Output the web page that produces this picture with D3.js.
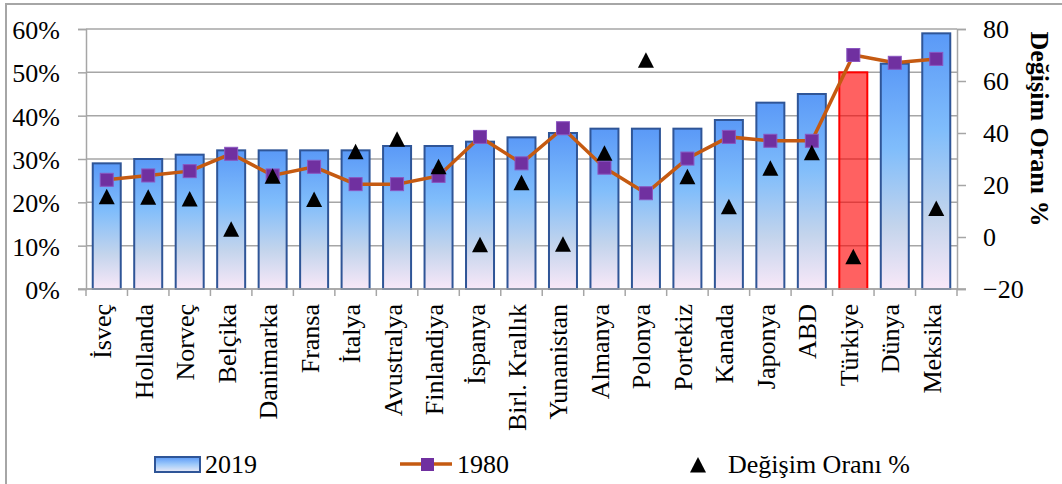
<!DOCTYPE html>
<html><head><meta charset="utf-8">
<script src="https://cdn.jsdelivr.net/npm/d3@7"></script>
<style>body{margin:0;background:#fff}svg{display:block}svg text{font-family:"Liberation Serif","Times New Roman",serif}</style>
</head><body>
<script>
const categories = ["İsveç","Hollanda","Norveç","Belçika","Danimarka","Fransa","İtalya","Avustralya","Finlandiya","İspanya","Birl. Krallık","Yunanistan","Almanya","Polonya","Portekiz","Kanada","Japonya","ABD","Türkiye","Dünya","Meksika"];
const values2019 = [0.29,0.30,0.31,0.32,0.32,0.32,0.32,0.33,0.33,0.34,0.35,0.36,0.37,0.37,0.37,0.39,0.43,0.45,0.50,0.52,0.59];
const values1980 = [0.252,0.262,0.272,0.312,0.262,0.282,0.242,0.242,0.261,0.351,0.29,0.371,0.28,0.221,0.301,0.351,0.342,0.342,0.54,0.522,0.531];
const changeRate = [15.5,15.3,14.6,3.0,23.4,14.4,32.8,37.6,27.0,-3.0,20.9,-2.8,32.2,68.0,23.2,11.6,26.4,32.4,-7.6,null,11.0];
const leftTicks = [0,0.1,0.2,0.3,0.4,0.5,0.6];
const rightTicks = [-20,0,20,40,60,80];
const highlight = "Türkiye";
const rightTitle = "Değişim Oranı %";
const legendLabels = ["2019","1980","Değişim Oranı %"];

const W=1062,H=484, X0=86, X1=957, Y0=29, Y1=289;
const FONT='"Liberation Serif","Times New Roman",serif';
const svg=d3.select("body").append("svg").attr("width",W).attr("height",H).attr("font-family",FONT);
const defs=svg.append("defs");
const g=defs.append("linearGradient").attr("id","bg").attr("x1",0).attr("y1",0).attr("x2",0).attr("y2",1);
[[0,"#5a99f7"],[0.38,"#80bdfb"],[0.72,"#c3d4ec"],[1,"#f8e8f8"]].forEach(([o,c])=>g.append("stop").attr("offset",o).attr("stop-color",c));

// outer frame
svg.append("rect").attr("x",6).attr("y",4).attr("width",W+20).attr("height",H+20).attr("fill","none").attr("stroke","#a6a6a6").attr("stroke-width",2);

const x=d3.scaleBand().domain(categories).range([X0,X1]).padding(0);
const y=d3.scaleLinear().domain([0,0.6]).range([Y1,Y0]);
const y2=d3.scaleLinear().domain([-20,80]).range([Y1,Y0]);
const grid="#a6a6a6";

// gridlines + left axis
const la=svg.append("g").attr("transform",`translate(${X0},0)`)
 .call(d3.axisLeft(y).tickValues(leftTicks).tickFormat(d3.format(".0%")).tickSize(8).tickPadding(18))
 .attr("font-family",FONT).attr("font-size",26);
la.select(".domain").attr("stroke",grid).attr("stroke-width",1.5);
la.selectAll(".tick line").attr("stroke",grid).attr("stroke-width",1.5);
la.selectAll(".tick text").attr("fill","#000").attr("dy","0.36em");
svg.append("g").selectAll("line").data(leftTicks).join("line")
 .attr("x1",X0).attr("x2",X1).attr("y1",d=>y(d)).attr("y2",d=>y(d)).attr("stroke",grid).attr("stroke-width",1.5);

// right axis
const ra=svg.append("g").attr("transform",`translate(${X1},0)`)
 .call(d3.axisRight(y2).tickValues(rightTicks).tickSize(9).tickPadding(17))
 .attr("font-family",FONT).attr("font-size",26);
ra.select(".domain").attr("stroke",grid).attr("stroke-width",1.5);
ra.selectAll(".tick line").attr("stroke",grid).attr("stroke-width",1.5);
ra.selectAll(".tick text").attr("fill","#000").attr("dy","0.34em");

// bars
const bw=x.bandwidth()*0.675;
svg.append("g").selectAll("rect").data(categories).join("rect")
 .attr("x",d=>x(d)+x.bandwidth()/2-bw/2).attr("width",bw)
 .attr("y",(d,i)=>y(values2019[i])).attr("height",(d,i)=>Y1-y(values2019[i]))
 .attr("fill",d=>d===highlight?"rgba(255,0,0,0.62)":"url(#bg)")
 .attr("stroke",d=>d===highlight?"#ff0000":"#2f5597").attr("stroke-width",2);

// bottom axis
const ba=svg.append("g").attr("transform",`translate(0,${Y1})`);
ba.append("line").attr("x1",X0-8).attr("x2",X1+9).attr("stroke",grid).attr("stroke-width",1.5);
ba.selectAll("line.t").data(d3.range(categories.length+1)).join("line").attr("class","t")
 .attr("x1",i=>X0+i*x.step()).attr("x2",i=>X0+i*x.step()).attr("y1",0).attr("y2",7).attr("stroke",grid).attr("stroke-width",1.5);
ba.selectAll("text").data(categories).join("text")
 .attr("transform",d=>`translate(${x(d)+x.bandwidth()/2+4.5},15) rotate(-90)`)
 .attr("text-anchor","end").attr("font-size",26).text(d=>d);

// 1980 line
const pts=categories.map((c,i)=>[x(c)+x.bandwidth()/2,y(values1980[i])]);
svg.append("path").attr("d",d3.line()(pts)).attr("fill","none").attr("stroke","#c55a11").attr("stroke-width",3.5);
svg.append("g").selectAll("rect").data(pts).join("rect")
 .attr("x",d=>d[0]-6.5).attr("y",d=>d[1]-6.5).attr("width",13).attr("height",13)
 .attr("fill","#7030a0").attr("stroke","#8a55c0").attr("stroke-width",1);

// triangles
const tri="M0,-8L8,7.5L-8,7.5Z";
svg.append("g").selectAll("path").data(categories.map((c,i)=>[c,changeRate[i]]).filter(d=>d[1]!=null)).join("path")
 .attr("d",tri).attr("transform",d=>`translate(${x(d[0])+x.bandwidth()/2},${y2(d[1])})`).attr("fill","#000");

// right title
svg.append("text").attr("transform",`translate(1031,129) rotate(90)`).attr("text-anchor","middle")
 .attr("font-size",26).attr("font-weight","bold").text(rightTitle);

// legend
const lg=svg.append("g");
const lg2=defs.append("linearGradient").attr("id","lgb").attr("x1",0).attr("y1",0).attr("x2",0).attr("y2",1);
[[0,"#5a99f7"],[0.5,"#9fcafa"],[1,"#eaeaf6"]].forEach(([o,c])=>lg2.append("stop").attr("offset",o).attr("stop-color",c));
lg.append("rect").attr("x",155).attr("y",457).attr("width",45).attr("height",15).attr("fill","url(#lgb)").attr("stroke","#2f5597").attr("stroke-width",2);
lg.append("text").attr("x",205).attr("y",473).attr("font-size",26).text(legendLabels[0]);
lg.append("line").attr("x1",400).attr("x2",452).attr("y1",464).attr("y2",464).attr("stroke","#c55a11").attr("stroke-width",3.5);
lg.append("rect").attr("x",421).attr("y",458).attr("width",13).attr("height",13).attr("fill","#7030a0");
lg.append("text").attr("x",457).attr("y",473).attr("font-size",26).text(legendLabels[1]);
lg.append("path").attr("d",tri).attr("transform","translate(698,465)").attr("fill","#000");
lg.append("text").attr("x",728).attr("y",473).attr("font-size",26).text(legendLabels[2]);
</script>
</body></html>
